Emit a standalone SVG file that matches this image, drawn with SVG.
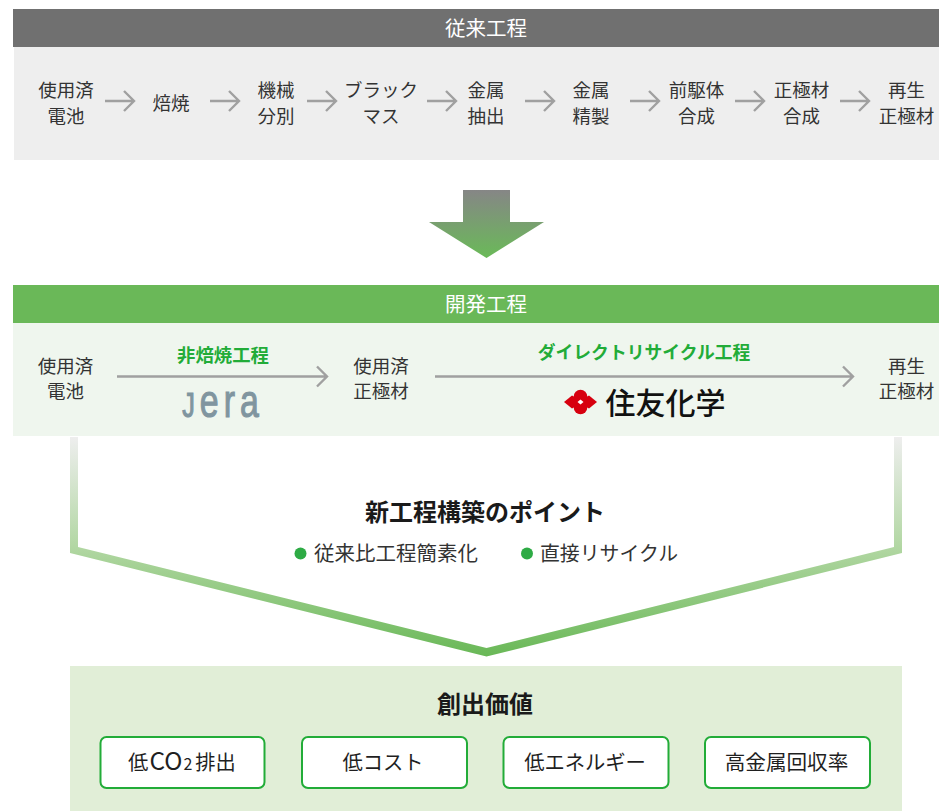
<svg xmlns="http://www.w3.org/2000/svg" width="939" height="811" viewBox="0 0 939 811">
<style>
text{font-family:"Noto Sans CJK JP","Noto Sans",sans-serif;text-anchor:middle}
.t{font-size:18.5px;fill:#333}
.h{font-size:20.5px;fill:#fff}
.g{font-size:18.4px;font-weight:700;fill:#22ac38}
.b{font-size:24px;font-weight:700;fill:#1a1a1a}
.p{font-size:20.5px;fill:#333}
.btn{fill:#fff;stroke:#22ac38;stroke-width:2}
.a{fill:none;stroke:#a0a0a0;stroke-width:2.400}
.lg{font-size:20.300px;fill:#1f1f1f}
</style>
<defs>
<linearGradient id="ga" x1="0" y1="0" x2="0" y2="1"><stop offset="0" stop-color="#868686"/><stop offset="1" stop-color="#6aba58"/></linearGradient>
<linearGradient id="gf" gradientUnits="userSpaceOnUse" x1="0" y1="437" x2="0" y2="656"><stop offset="0" stop-color="#eeeeee"/><stop offset=".5" stop-color="#b2d7a3"/><stop offset="1" stop-color="#69b857"/></linearGradient>
<linearGradient id="gj" x1="0" y1="1" x2="1" y2="0"><stop offset="0" stop-color="#8fa3ac"/><stop offset="1" stop-color="#7c929c"/></linearGradient>
</defs>
<g id="legacy-panel">
<rect x="13" y="9" width="926" height="38" fill="#707070"/>
<rect x="14" y="47" width="925" height="113" fill="#eeeeee"/>
<text class="h" x="486" y="36">従来工程</text>
</g>
<g id="n1"><text class="t" x="66" y="97">使用済</text><text class="t" x="66" y="123">電池</text></g>
<g id="n2"><text class="t" x="171" y="110">焙焼</text></g>
<g id="n3"><text class="t" x="276" y="97">機械</text><text class="t" x="276" y="123">分別</text></g>
<g id="n4"><text class="t" x="381" y="97">ブラック</text><text class="t" x="381" y="123">マス</text></g>
<g id="n5"><text class="t" x="486" y="97">金属</text><text class="t" x="486" y="123">抽出</text></g>
<g id="n6"><text class="t" x="591" y="97">金属</text><text class="t" x="591" y="123">精製</text></g>
<g id="n7"><text class="t" x="696.500" y="97">前駆体</text><text class="t" x="696.500" y="123">合成</text></g>
<g id="n8"><text class="t" x="801.500" y="97">正極材</text><text class="t" x="801.500" y="123">合成</text></g>
<g id="n9"><text class="t" x="906.500" y="97">再生</text><text class="t" x="906.500" y="123">正極材</text></g>
<g id="connectors-legacy" class="a">
<path d="M105 101H134M124 91L134 101L124 111"/>
<path d="M210 101H239M229 91L239 101L229 111"/>
<path d="M307 101H336M326 91L336 101L326 111"/>
<path d="M427 101H456M446 91L456 101L446 111"/>
<path d="M525 101H554M544 91L554 101L544 111"/>
<path d="M630 101H659M649 91L659 101L649 111"/>
<path d="M735 101H764M754 91L764 101L754 111"/>
<path d="M840 101H869M859 91L869 101L859 111"/>
</g>
<g id="down-arrow"><polygon points="463,190 510,190 510,222 544,222 486.500,258 429,222 463,222" fill="url(#ga)"/></g>
<g id="new-panel">
<rect x="13" y="285" width="926" height="38" fill="#6ab858"/>
<rect x="13" y="323" width="926" height="113" fill="#eff6ee"/>
<text class="h" x="486" y="311.500">開発工程</text>
</g>
<g id="d1"><text class="t" x="65.500" y="373">使用済</text><text class="t" x="65.500" y="398">電池</text></g>
<g id="d2"><text class="t" x="381" y="373">使用済</text><text class="t" x="381" y="398">正極材</text></g>
<g id="d3"><text class="t" x="906.500" y="373">再生</text><text class="t" x="906.500" y="398">正極材</text></g>
<g id="connectors-new" class="a">
<path d="M117 376.500H327M317 366.500L327 376.500L317 386.500"/>
<path d="M435 376.500H853M843 366.500L853 376.500L843 386.500"/>
</g>
<g id="label-noncalcine"><text class="g" x="223" y="362">非焙焼工程</text></g>
<g id="label-direct"><text class="g" x="644" y="359" style="font-size:17.800px">ダイレクトリサイクル工程</text></g>
<g id="logo-jera"><text transform="translate(223 416.500) scale(.72 1)" style="font-family:'Liberation Sans',sans-serif;font-size:47px;letter-spacing:7px" fill="#80959f" stroke="#80959f" stroke-width="1.200"><tspan font-size="35">J</tspan>era</text></g>
<g id="logo-sumitomo" fill="#d7000f">
<circle cx="580.500" cy="396.500" r="6.800"/>
<circle cx="580.500" cy="407.500" r="6.800"/>
<path d="M564 402L572 395.500Q576 397 577 402Q576 407 572 408.500Z"/>
<path d="M597 402L589 395.500Q585 397 584 402Q585 407 589 408.500Z"/>
<rect x="574" y="396" width="13" height="12"/>
<path d="M580.500 399.500L583.500 402L580.500 404.500L577.500 402Z" fill="#fff"/>
<text x="665.500" y="414" style="font-size:30px;font-weight:500" fill="#111">住友化学</text>
</g>
<g id="funnel"><polygon points="70,437 78,437 78,547 486.500,648 894,547 894,437 902,437 902,553 486.500,656.500 70,553" fill="url(#gf)"/></g>
<g id="points">
<text class="b" x="485" y="521">新工程構築のポイント</text>
<circle cx="300.500" cy="553.500" r="6" fill="#2eab45"/>
<text class="p" x="396" y="561">従来比工程簡素化</text>
<circle cx="527" cy="553.500" r="6" fill="#2eab45"/>
<text class="p" x="609" y="561" style="font-size:19.900px">直接リサイクル</text>
</g>
<g id="value-panel">
<rect x="70" y="666" width="832" height="145" fill="#e1eed7"/>
<text class="b" x="485" y="713">創出価値</text>
</g>
<g id="v1"><rect class="btn" x="100.500" y="737" width="164" height="51" rx="6"/><text class="lg" x="182" y="770">低<tspan font-size="24.500" dx="1">CO</tspan><tspan font-size="16" dx="1">2</tspan><tspan dx="3">排出</tspan></text></g>
<g id="v2"><rect class="btn" x="302" y="737" width="165" height="51" rx="6"/><text class="lg" x="383" y="770">低コスト</text></g>
<g id="v3"><rect class="btn" x="503.500" y="737" width="165" height="51" rx="6"/><text class="lg" x="585" y="770">低エネルギー</text></g>
<g id="v4"><rect class="btn" x="705" y="737" width="165" height="51" rx="6"/><text class="lg" x="786.500" y="770" style="font-size:20.600px">高金属回収率</text></g>
</svg>
